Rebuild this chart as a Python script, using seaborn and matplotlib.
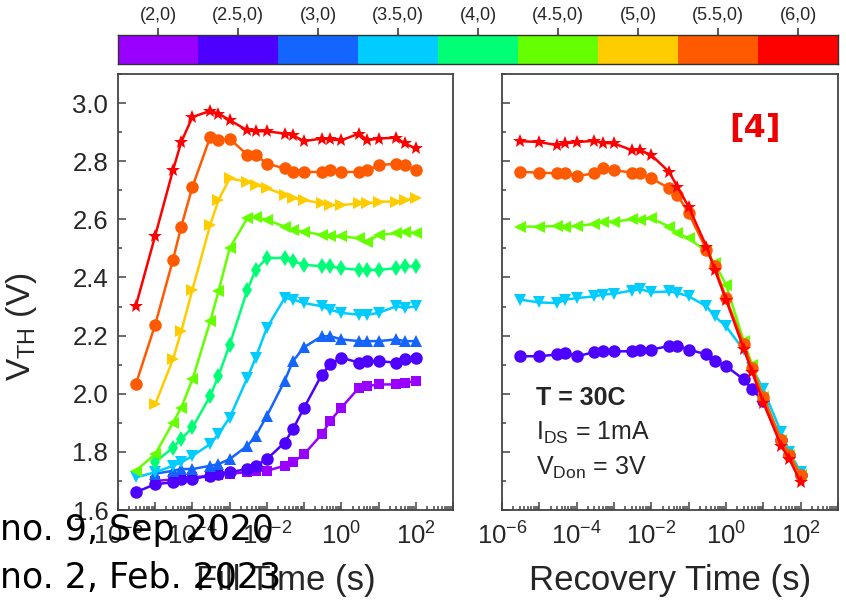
import numpy as np
import pandas as pd
import matplotlib
matplotlib.use("Agg")
import matplotlib.pyplot as plt
import seaborn as sns
from matplotlib.colors import ListedColormap
from matplotlib.ticker import FixedLocator, LogLocator, MultipleLocator, FuncFormatter, NullFormatter

sns.set_theme(style="white")
plt.rcParams['font.family'] = ['Liberation Sans', 'DejaVu Sans']
plt.rcParams['mathtext.default'] = 'regular'

# stress conditions shown on the colour bar
conditions = ['(2,0)', '(2.5,0)', '(3,0)', '(3.5,0)', '(4,0)', '(4.5,0)', '(5,0)', '(5.5,0)', '(6,0)']
cond_colors = ['#9900FF', '#4D00FF', '#1464FF', '#00CCFF', '#00FF77',
               '#66FF00', '#FFCC00', '#FF5A00', '#FF0000']
cond_markers = ['s', 'o', '^', 'v', 'd', '<', '>', 'o', '*']
marker_sizes = [7.5, 9, 8.5, 8.5, 8.5, 8.5, 8.5, 9, 10.5]

# time axis (s), same grid for both panels
times = [3e-6, 1e-5, 3e-5, 5e-5, 1e-4, 3e-4, 5e-4, 1e-3, 3e-3, 5e-3, 1e-2, 3e-2,
         5e-2, 0.1, 0.3, 0.5, 1, 3, 5, 10, 30, 50, 100]

# fill (stress) phase, V_TH in V
fill_2_0 = [np.nan, 1.700, 1.705, 1.710, 1.712, 1.718, 1.720, 1.725, 1.730, 1.735, 1.735, 1.752,
            1.764, 1.792, 1.861, 1.906, 1.952, 2.021, 2.026, 2.032, 2.032, 2.038, 2.043]
fill_2_5 = [1.661, 1.689, 1.695, 1.707, 1.707, 1.718, 1.724, 1.730, 1.741, 1.752, 1.775, 1.832,
            1.878, 1.952, 2.066, 2.101, 2.124, 2.107, 2.112, 2.112, 2.107, 2.118, 2.124]
fill_3_0 = [np.nan, 1.725, 1.735, 1.741, 1.741, 1.752, 1.758, 1.775, 1.821, 1.855, 1.924, 2.044,
            2.112, 2.160, 2.198, 2.198, 2.187, 2.181, 2.181, 2.181, 2.187, 2.181, 2.181]
fill_3_5 = [1.712, 1.730, 1.752, 1.764, 1.786, 1.827, 1.861, 1.918, 2.055, 2.124, 2.227, 2.329,
            2.324, 2.312, 2.301, 2.289, 2.278, 2.272, 2.272, 2.278, 2.301, 2.295, 2.301]
fill_4_0 = [np.nan, 1.764, 1.815, 1.844, 1.884, 1.992, 2.061, 2.169, 2.358, 2.426, 2.467, 2.467,
            2.455, 2.444, 2.438, 2.438, 2.432, 2.426, 2.426, 2.426, 2.432, 2.438, 2.438]
fill_4_5 = [1.735, 1.792, 1.901, 1.952, 2.049, 2.249, 2.352, 2.501, 2.604, 2.609, 2.598, 2.575,
            2.564, 2.558, 2.546, 2.541, 2.541, 2.535, 2.523, 2.546, 2.552, 2.558, 2.552]
fill_5_0 = [np.nan, 1.964, 2.118, 2.215, 2.358, 2.581, 2.666, 2.741, 2.729, 2.718, 2.707, 2.684,
            2.672, 2.666, 2.655, 2.649, 2.649, 2.655, 2.655, 2.661, 2.661, 2.666, 2.672]
fill_5_5 = [2.032, 2.238, 2.461, 2.575, 2.712, 2.883, 2.872, 2.878, 2.821, 2.821, 2.792, 2.775,
            2.763, 2.763, 2.763, 2.769, 2.763, 2.763, 2.769, 2.786, 2.792, 2.786, 2.769]
fill_6_0 = [2.301, 2.544, 2.769, 2.866, 2.952, 2.973, 2.964, 2.941, 2.906, 2.903, 2.903, 2.895,
            2.889, 2.869, 2.878, 2.875, 2.872, 2.895, 2.872, 2.878, 2.881, 2.861, 2.844]

# recovery phase, V_TH in V
rec_2_5 = [2.129, 2.129, 2.135, 2.141, 2.129, 2.143, 2.146, 2.146, 2.146, 2.150, 2.152, 2.164,
           2.164, 2.152, 2.135, 2.112, 2.095, 2.049, 2.015, 1.975, 1.840, 1.790, 1.720]
rec_3_5 = [2.324, 2.314, 2.312, 2.324, 2.329, 2.335, 2.341, 2.344, 2.355, 2.360, 2.349, 2.352,
           2.347, 2.335, 2.301, 2.266, 2.232, 2.150, 2.090, 2.015, 1.867, 1.800, 1.730]
rec_4_5 = [2.575, 2.575, 2.577, 2.575, 2.577, 2.584, 2.592, 2.592, 2.600, 2.598, 2.604, 2.575,
           2.552, 2.535, 2.489, 2.449, 2.375, 2.180, 2.100, 1.990, 1.840, 1.790, 1.720]
rec_5_5 = [2.763, 2.761, 2.758, 2.760, 2.749, 2.758, 2.778, 2.769, 2.761, 2.758, 2.741, 2.707,
           2.684, 2.621, 2.495, 2.438, 2.329, 2.170, 2.090, 1.990, 1.840, 1.790, 1.720]
rec_6_0 = [2.869, 2.866, 2.855, 2.861, 2.866, 2.870, 2.863, 2.861, 2.838, 2.838, 2.821, 2.763,
           2.712, 2.643, 2.506, 2.426, 2.324, 2.154, 2.075, 1.969, 1.821, 1.775, 1.695]

fill_series = [fill_2_0, fill_2_5, fill_3_0, fill_3_5, fill_4_0, fill_4_5, fill_5_0, fill_5_5, fill_6_0]
rec_index = [1, 3, 5, 7, 8]
rec_series = [rec_2_5, rec_3_5, rec_4_5, rec_5_5, rec_6_0]


def draw_series(ax, idx, values):
    df = pd.DataFrame({'t': times, 'vth': values}).dropna()
    sns.lineplot(data=df, x='t', y='vth', ax=ax, color=cond_colors[idx],
                 marker=cond_markers[idx], markersize=marker_sizes[idx],
                 markeredgewidth=0, linewidth=1.8, estimator=None, sort=False)


def style_axis(ax, show_ylabels):
    ax.set_xscale('log')
    ax.set_xlim(1e-6, 1e3)
    ax.set_ylim(1.6, 3.1)
    ax.xaxis.set_major_locator(FixedLocator([10.0 ** k for k in range(-6, 4)]))
    ax.xaxis.set_major_formatter(FuncFormatter(
        lambda v, p: '$10^{%d}$' % round(np.log10(v)) if round(np.log10(v)) % 2 == 0
        and round(np.log10(v)) <= 2 else ''))
    ax.xaxis.set_minor_locator(LogLocator(base=10, subs=np.arange(2, 10), numticks=30))
    ax.xaxis.set_minor_formatter(NullFormatter())
    ax.yaxis.set_major_locator(MultipleLocator(0.2))
    ax.yaxis.set_minor_locator(MultipleLocator(0.1))
    ax.tick_params(which='both', direction='in', bottom=True, left=True, top=False, right=False,
                   color='#444444', width=1.1)
    ax.tick_params(which='major', length=6, labelsize=18.5)
    ax.tick_params(axis='x', which='major', pad=9)
    ax.tick_params(axis='y', which='major', pad=7)
    ax.tick_params(which='minor', length=3)
    if not show_ylabels:
        ax.set_yticklabels([])
    ax.set_ylabel('')
    for s in ax.spines.values():
        s.set_visible(True)
        s.set_color('#444444')
        s.set_linewidth(1.3)


fig = plt.figure(figsize=(8.46, 6.05), dpi=100)
ax1 = fig.add_axes([118 / 846, 1 - 510 / 605, 335 / 846, 436 / 605])
ax2 = fig.add_axes([502 / 846, 1 - 510 / 605, 336 / 846, 436 / 605])
cax = fig.add_axes([118 / 846, 1 - 64 / 605, 720 / 846, 29 / 605])

for ax in (ax1, ax2):
    ax.set_xscale('log')

for i, vals in enumerate(fill_series):
    draw_series(ax1, i, vals)
for i, vals in zip(rec_index, rec_series):
    draw_series(ax2, i, vals)

style_axis(ax1, True)
style_axis(ax2, False)

ax1.set_xlabel('Fill Time (s)', fontsize=25, labelpad=10)
ax2.set_xlabel('Recovery Time (s)', fontsize=25, labelpad=10)
ax1.set_ylabel('$V_{TH}$ (V)', fontsize=24)
ax1.yaxis.set_label_coords(-0.235, 0.42)

# text in the recovery panel
ax2.text(0.10, 0.257, 'T = 30C', transform=ax2.transAxes, fontsize=18,
         fontweight='bold', va='center', ha='left')
ax2.text(0.10, 0.177, '$I_{DS}$ = 1mA', transform=ax2.transAxes, fontsize=18,
         va='center', ha='left')
ax2.text(0.10, 0.096, '$V_{Don}$ = 3V', transform=ax2.transAxes, fontsize=18,
         va='center', ha='left')
ax2.text(0.753, 0.874, '[4]', transform=ax2.transAxes, fontsize=23, fontweight='bold',
         color='#EE0000', family='DejaVu Sans', va='center', ha='center')

# colour bar of the stress conditions
sns.heatmap(np.arange(len(conditions)).reshape(1, -1), ax=cax, cmap=ListedColormap(cond_colors),
            cbar=False, xticklabels=conditions, yticklabels=False, linewidths=0)
cax.xaxis.tick_top()
cax.tick_params(axis='x', top=True, bottom=False, direction='out', length=5,
                color='#444444', labelsize=13, rotation=0, pad=3)
for s in cax.spines.values():
    s.set_visible(True)
    s.set_color('#333333')
    s.set_linewidth(1.0)

# caption fragments lying on top of the figure
fig.text(0.0, 1 - 530 / 605, 'no. 9, Sep 2020', family='DejaVu Sans', fontsize=25,
         va='center', ha='left', color='black')
fig.text(0.0, 1 - 578 / 605, 'no. 2, Feb. 2023', family='DejaVu Sans', fontsize=25,
         va='center', ha='left', color='black')

fig.savefig('out.png', dpi=100)
